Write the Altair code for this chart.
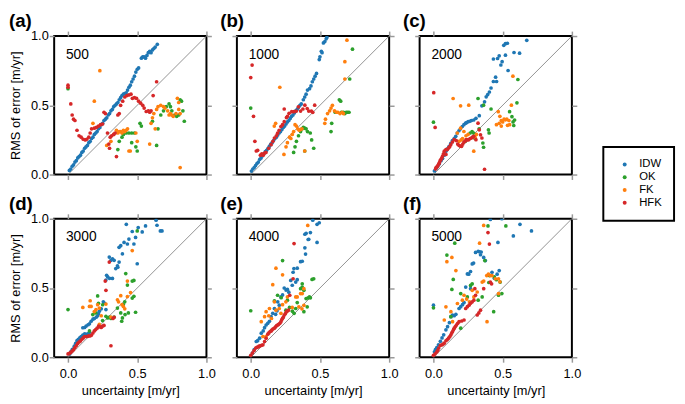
import altair as alt
import pandas as pd

METHODS = ["IDW", "OK", "FK", "HFK"]
COLORS = ["#1f77b4", "#2ca02c", "#ff7f0e", "#d62728"]
PANEL_TAGS = ["(a)", "(b)", "(c)", "(d)", "(e)", "(f)"]
PANEL_NUMS = ["500", "1000", "2000", "3000", "4000", "5000"]
X_TICKS = [0.0, 0.5, 1.0]
Y_TICKS = [0.0, 0.5, 1.0]
X_DOMAIN = [-0.1, 1.0]
Y_DOMAIN = [0.0, 1.0]
DIAG = [0.0, 1.0]

# ---------------- panel (a) 500 ----------------
A_IDW = [(0.01,0.03),(0.02,0.04),(0.03,0.06),(0.04,0.07),(0.05,0.09),(0.06,0.10),(0.07,0.12),(0.08,0.13),
         (0.09,0.14),(0.10,0.16),(0.11,0.17),(0.12,0.19),(0.13,0.20),(0.14,0.21),(0.15,0.23),(0.16,0.24),
         (0.17,0.26),(0.18,0.27),(0.19,0.29),(0.20,0.30),(0.21,0.31),(0.22,0.33),(0.23,0.34),(0.24,0.36),
         (0.25,0.37),(0.26,0.39),(0.27,0.40),(0.28,0.41),(0.29,0.43),(0.30,0.44),(0.31,0.46),(0.32,0.47),
         (0.33,0.49),(0.34,0.50),(0.35,0.51),(0.36,0.52),(0.37,0.54),(0.38,0.555),(0.39,0.57),(0.40,0.58),
         (0.41,0.585),(0.42,0.59),(0.43,0.61),(0.44,0.63),(0.45,0.645),(0.46,0.67),(0.47,0.69),(0.48,0.71),
         (0.49,0.74),(0.50,0.76),(0.51,0.77),(0.53,0.84),(0.54,0.85),(0.55,0.85),(0.56,0.84),(0.57,0.86),
         (0.58,0.88),(0.59,0.89),(0.60,0.88),(0.61,0.90),(0.62,0.91),(0.63,0.92),(0.645,0.94)]
A_OK = [(0.0,0.62),(0.36,0.18),(0.37,0.24),(0.39,0.27),(0.40,0.29),(0.42,0.30),(0.44,0.30),(0.46,0.30),
        (0.48,0.30),(0.46,0.23),(0.49,0.20),(0.50,0.17),(0.52,0.37),(0.53,0.35),(0.64,0.21),(0.65,0.33),
        (0.61,0.385),(0.67,0.43),(0.69,0.46),(0.71,0.49),(0.73,0.51),(0.74,0.49),(0.75,0.46),(0.77,0.43),
        (0.785,0.42),(0.80,0.43),(0.81,0.54),(0.82,0.53),(0.83,0.46),(0.84,0.385)]
A_FK = [(0.23,0.75),(0.19,0.53),(0.18,0.37),(0.28,0.21),(0.31,0.24),(0.33,0.29),(0.35,0.32),(0.36,0.30),
        (0.37,0.31),(0.38,0.31),(0.39,0.30),(0.40,0.32),(0.41,0.31),(0.42,0.32),(0.43,0.33),(0.44,0.17),
        (0.45,0.17),(0.49,0.30),(0.50,0.24),(0.59,0.22),(0.60,0.37),(0.61,0.41),(0.62,0.44),(0.64,0.47),
        (0.65,0.49),(0.67,0.50),(0.69,0.49),(0.70,0.48),(0.72,0.46),(0.73,0.43),(0.74,0.44),(0.75,0.43),
        (0.76,0.42),(0.78,0.44),(0.79,0.55),(0.80,0.52),(0.80,0.47),(0.81,0.44),(0.81,0.05),(0.63,0.33)]
A_HFK = [(0.0,0.645),(0.0,0.63),(0.02,0.51),(0.03,0.43),(0.04,0.40),(0.05,0.39),(0.065,0.32),(0.08,0.28),
         (0.095,0.27),(0.11,0.255),(0.125,0.25),(0.135,0.255),(0.15,0.27),(0.16,0.30),(0.17,0.33),(0.19,0.335),
         (0.205,0.34),(0.22,0.35),(0.235,0.36),(0.25,0.365),(0.26,0.45),(0.27,0.44),(0.285,0.30),(0.295,0.22),
         (0.30,0.19),(0.305,0.27),(0.315,0.28),(0.33,0.29),(0.34,0.30),(0.35,0.13),(0.36,0.43),(0.37,0.44),
         (0.38,0.50),(0.395,0.53),(0.41,0.56),(0.425,0.57),(0.44,0.575),(0.455,0.58),(0.465,0.55),(0.48,0.555),
         (0.495,0.55),(0.51,0.53),(0.525,0.515),(0.54,0.50),(0.55,0.48),(0.565,0.455),(0.58,0.46),(0.59,0.45),
         (0.60,0.46),(0.615,0.57),(0.64,0.67)]

# ---------------- panel (b) 1000 ----------------
B_IDW = [(0.005,0.025),(0.015,0.04),(0.025,0.05),(0.035,0.065),(0.045,0.08),(0.055,0.09),(0.065,0.11),
         (0.075,0.12),(0.085,0.135),(0.095,0.15),(0.105,0.165),(0.115,0.175),(0.125,0.19),(0.135,0.205),
         (0.145,0.22),(0.155,0.23),(0.165,0.245),(0.175,0.26),(0.185,0.27),(0.195,0.285),(0.205,0.30),
         (0.215,0.31),(0.225,0.325),(0.235,0.34),(0.245,0.35),(0.255,0.365),(0.265,0.38),(0.275,0.39),
         (0.285,0.405),(0.295,0.42),(0.305,0.43),(0.315,0.445),(0.325,0.46),(0.335,0.47),(0.345,0.485),
         (0.355,0.50),(0.365,0.51),(0.38,0.54),(0.39,0.56),(0.40,0.58),(0.41,0.61),(0.425,0.62),(0.435,0.64),
         (0.445,0.67),(0.455,0.69),(0.465,0.71),(0.475,0.73),(0.495,0.83),(0.50,0.85),(0.51,0.89),
         (0.515,0.88),(0.525,0.95),(0.535,0.96),(0.545,0.98),(0.55,0.99)]
B_OK = [(0.0,0.48),(0.31,0.16),(0.32,0.20),(0.33,0.24),(0.345,0.28),(0.36,0.31),(0.37,0.33),(0.38,0.34),
        (0.39,0.335),(0.40,0.33),(0.41,0.31),(0.39,0.17),(0.43,0.30),(0.44,0.25),(0.455,0.19),(0.58,0.31),
        (0.585,0.37),(0.61,0.45),(0.64,0.54),(0.65,0.53),(0.655,0.45),(0.67,0.45),(0.68,0.44),(0.69,0.45),
        (0.70,0.45),(0.71,0.45),(0.715,0.69),(0.735,0.905)]
B_FK = [(0.21,0.63),(0.18,0.37),(0.17,0.35),(0.24,0.145),(0.255,0.2),(0.265,0.23),(0.28,0.27),(0.29,0.26),
        (0.30,0.29),(0.31,0.31),(0.32,0.36),(0.33,0.35),(0.34,0.33),(0.35,0.32),(0.36,0.325),(0.37,0.33),
        (0.39,0.17),(0.535,0.37),(0.54,0.40),(0.555,0.44),(0.57,0.46),(0.58,0.48),(0.59,0.50),(0.605,0.46),
        (0.62,0.45),(0.63,0.45),(0.645,0.44),(0.66,0.45),(0.67,0.44),(0.68,0.815),(0.68,0.69),(0.695,0.97)]
B_HFK = [(0.01,0.79),(0.0,0.70),(0.02,0.42),(0.03,0.24),(0.04,0.17),(0.05,0.175),(0.07,0.14),(0.08,0.15),
         (0.09,0.14),(0.10,0.155),(0.11,0.16),(0.13,0.19),(0.147,0.216),(0.16,0.24),(0.171,0.264),(0.185,0.28),
         (0.194,0.299),(0.205,0.32),(0.218,0.347),(0.23,0.36),(0.242,0.382),(0.242,0.473),(0.258,0.411),
         (0.265,0.42),(0.277,0.442),(0.296,0.454),(0.313,0.454),(0.329,0.458),(0.344,0.489),(0.36,0.458),
         (0.377,0.473),(0.391,0.501),(0.408,0.477),(0.419,0.458),(0.438,0.458),(0.448,0.449),(0.462,0.501)]

# ---------------- panel (c) 2000 ----------------
C_IDW = [(0.007,0.026),(0.02,0.045),(0.03,0.06),(0.043,0.078),(0.055,0.10),(0.066,0.116),(0.078,0.14),
         (0.09,0.169),(0.10,0.185),(0.113,0.204),(0.125,0.225),(0.137,0.245),(0.15,0.26),(0.161,0.276),
         (0.172,0.30),(0.184,0.316),(0.195,0.33),(0.208,0.347),(0.22,0.36),(0.232,0.371),(0.24,0.375),
         (0.251,0.382),(0.263,0.385),(0.274,0.39),(0.291,0.394),(0.307,0.406),(0.331,0.425),(0.35,0.496),
         (0.369,0.525),(0.381,0.561),(0.392,0.577),(0.404,0.596),(0.416,0.625),(0.433,0.672),(0.449,0.703),
         (0.456,0.672),(0.433,0.834),(0.463,0.838),(0.475,0.857),(0.487,0.791),(0.496,0.815),(0.52,0.862),
         (0.508,0.933),(0.52,0.945),(0.534,0.948),(0.539,0.751),(0.582,0.881),(0.622,0.876),(0.674,0.969)]
C_OK = [(0.0,0.378),(0.322,0.549),(0.362,0.501),(0.416,0.473),(0.279,0.311),(0.29,0.30),(0.23,0.24),
        (0.30,0.26),(0.357,0.228),(0.362,0.197),(0.397,0.323),(0.402,0.30),(0.55,0.454),(0.567,0.418),
        (0.586,0.394),(0.58,0.354),(0.575,0.38),(0.603,0.518),(0.61,0.686),(0.265,0.30),(0.33,0.33)]
C_FK = [(0.142,0.549),(0.196,0.496),(0.255,0.501),(0.196,0.335),(0.22,0.311),(0.172,0.30),(0.185,0.24),
        (0.20,0.25),(0.21,0.26),(0.235,0.28),(0.25,0.29),(0.291,0.169),(0.30,0.27),(0.31,0.29),(0.468,0.454),
        (0.48,0.42),(0.49,0.39),(0.50,0.38),(0.51,0.40),(0.52,0.395),(0.53,0.40),(0.545,0.39),(0.535,0.355),
        (0.455,0.36),(0.475,0.37),(0.49,0.35),(0.563,0.501),(0.574,0.71),(0.55,0.36)]
C_HFK = [(0.002,0.591),(0.012,0.34),(0.369,0.038),(0.015,0.04),(0.019,0.05),(0.025,0.055),(0.031,0.062),
         (0.037,0.075),(0.043,0.086),(0.048,0.10),(0.054,0.109),(0.06,0.12),(0.066,0.133),(0.072,0.15),
         (0.078,0.169),(0.09,0.181),(0.09,0.145),(0.10,0.18),(0.109,0.192),(0.117,0.20),(0.125,0.216),
         (0.137,0.235),(0.149,0.252),(0.165,0.245),(0.175,0.22),(0.184,0.211),(0.195,0.205),(0.203,0.204),
         (0.212,0.22),(0.22,0.235),(0.228,0.24),(0.236,0.252),(0.245,0.25),(0.255,0.252),(0.265,0.26),
         (0.274,0.264),(0.282,0.27),(0.291,0.276),(0.307,0.252),(0.322,0.371),(0.331,0.323),(0.34,0.287),
         (0.35,0.264)]

# ---------------- panel (d) 3000 ----------------
D_IDW = [(0.012,0.024),(0.02,0.04),(0.03,0.055),(0.036,0.059),(0.045,0.08),(0.055,0.10),(0.065,0.12),
         (0.075,0.13),(0.085,0.14),(0.095,0.15),(0.107,0.16),(0.12,0.17),(0.13,0.165),(0.143,0.17),
         (0.155,0.18),(0.107,0.213),(0.12,0.215),(0.131,0.225),(0.145,0.235),(0.155,0.242),(0.167,0.26),
         (0.18,0.275),(0.19,0.28),(0.205,0.29),(0.214,0.30),(0.22,0.315),(0.226,0.332),(0.24,0.35),
         (0.255,0.40),(0.265,0.39),(0.274,0.344),(0.274,0.557),(0.279,0.592),(0.286,0.581),(0.30,0.57),
         (0.321,0.569),(0.298,0.723),(0.31,0.70),(0.321,0.711),(0.333,0.70),(0.345,0.64),(0.357,0.66),
         (0.369,0.687),(0.36,0.65),(0.369,0.794),(0.381,0.806),(0.393,0.746),(0.405,0.829),(0.429,0.818),
         (0.44,0.853),(0.421,0.96),(0.464,0.908),(0.476,0.818),(0.488,0.865),(0.5,0.675),(0.507,0.936),
         (0.536,0.905),(0.56,0.948),(0.636,0.99),(0.643,0.953),(0.667,0.912),(0.679,0.912)]
D_OK = [(0.0,0.344),(0.155,0.19),(0.179,0.308),(0.2,0.32),(0.214,0.443),(0.22,0.39),(0.25,0.379),
        (0.25,0.265),(0.274,0.296),(0.286,0.284),(0.30,0.29),(0.31,0.28),(0.333,0.29),(0.357,0.355),
        (0.381,0.32),(0.393,0.284),(0.388,0.26),(0.412,0.308),(0.436,0.32),(0.40,0.38),(0.41,0.40),
        (0.417,0.604),(0.429,0.521),(0.464,0.55),(0.476,0.555),(0.5,0.912),(0.488,0.325),(0.464,0.427),
        (0.476,0.44)]
D_FK = [(0.107,0.36),(0.16,0.408),(0.155,0.367),(0.167,0.367),(0.19,0.33),(0.202,0.344),(0.214,0.379),
        (0.226,0.355),(0.226,0.237),(0.24,0.30),(0.274,0.384),(0.31,0.29),(0.357,0.415),(0.365,0.40),
        (0.381,0.445),(0.39,0.38),(0.40,0.367),(0.41,0.35),(0.429,0.438),(0.429,0.55),(0.452,0.467),
        (0.464,0.77)]
D_HFK = [(0.0,0.024),(0.01,0.028),(0.02,0.035),(0.03,0.045),(0.04,0.055),(0.05,0.07),(0.06,0.085),
         (0.07,0.10),(0.08,0.11),(0.09,0.118),(0.10,0.13),(0.11,0.14),(0.12,0.15),(0.13,0.15),(0.14,0.15),
         (0.15,0.154),(0.16,0.155),(0.17,0.16),(0.18,0.175),(0.19,0.19),(0.20,0.20),(0.21,0.21),
         (0.221,0.225),(0.23,0.22),(0.24,0.215),(0.25,0.225),(0.26,0.23),(0.298,0.687),(0.269,0.55),
         (0.274,0.483),(0.31,0.083),(0.333,0.289),(0.325,0.28)]

# ---------------- panel (e) 4000 ----------------
E_IDW = [(0.012,0.031),(0.025,0.055),(0.04,0.114),(0.05,0.12),(0.064,0.138),(0.076,0.174),(0.09,0.19),
         (0.1,0.214),(0.111,0.233),(0.123,0.245),(0.135,0.26),(0.147,0.293),(0.159,0.317),(0.171,0.352),
         (0.18,0.31),(0.19,0.335),(0.206,0.376),(0.195,0.40),(0.218,0.436),(0.23,0.45),(0.242,0.5),
         (0.255,0.485),(0.265,0.49),(0.275,0.47),(0.289,0.555),(0.306,0.614),(0.312,0.64),(0.325,0.543),
         (0.336,0.643),(0.36,0.69),(0.372,0.693),(0.396,0.745),(0.391,0.79),(0.391,0.888),(0.40,0.895),
         (0.419,0.852),(0.415,0.85),(0.431,0.9),(0.448,0.99),(0.479,0.96),(0.495,0.971),(0.479,0.829),
         (0.336,0.56),(0.30,0.52)]
E_OK = [(0.0,0.336),(0.23,0.698),(0.194,0.448),(0.171,0.407),(0.22,0.43),(0.265,0.412),(0.254,0.34),
        (0.301,0.333),(0.313,0.317),(0.325,0.352),(0.336,0.395),(0.36,0.495),(0.372,0.507),(0.384,0.483),
        (0.4,0.424),(0.415,0.429),(0.424,0.436),(0.431,0.429),(0.443,0.562),(0.455,0.567),(0.384,0.329),
        (0.408,0.364),(0.372,0.531),(0.28,0.36)]
E_FK = [(0.412,0.952),(0.182,0.643),(0.159,0.524),(0.23,0.595),(0.265,0.436),(0.254,0.40),(0.23,0.38),
        (0.206,0.352),(0.182,0.34),(0.135,0.352),(0.111,0.329),(0.1,0.293),(0.076,0.257),(0.088,0.15),
        (0.11,0.15),(0.171,0.4),(0.218,0.317),(0.26,0.33),(0.30,0.36),(0.325,0.436),(0.336,0.436),
        (0.36,0.46),(0.372,0.46),(0.384,0.495),(0.348,0.364),(0.37,0.35),(0.384,0.375),(0.13,0.30),
        (0.15,0.28)]
E_HFK = [(0.0,0.014),(0.012,0.031),(0.024,0.048),(0.036,0.067),(0.045,0.072),(0.052,0.074),(0.06,0.08),
         (0.069,0.083),(0.078,0.087),(0.088,0.09),(0.1,0.114),(0.111,0.138),(0.123,0.167),(0.131,0.176),
         (0.14,0.186),(0.148,0.19),(0.154,0.198),(0.162,0.205),(0.171,0.21),(0.18,0.22),(0.187,0.229),
         (0.195,0.233),(0.201,0.238),(0.21,0.245),(0.218,0.257),(0.224,0.27),(0.23,0.281),(0.236,0.29),
         (0.242,0.305),(0.25,0.315),(0.258,0.329),(0.265,0.335),(0.273,0.34),(0.282,0.448),(0.306,0.567),
         (0.313,0.821)]

# ---------------- panel (f) 5000 ----------------
F_IDW = [(0.0,0.376),(0.007,0.04),(0.014,0.055),(0.024,0.07),(0.036,0.09),(0.05,0.115),(0.062,0.14),
         (0.074,0.162),(0.09,0.198),(0.102,0.221),(0.115,0.25),(0.126,0.293),(0.138,0.305),(0.15,0.30),
         (0.162,0.31),(0.185,0.352),(0.197,0.365),(0.221,0.395),(0.21,0.38),(0.233,0.507),(0.245,0.602),
         (0.255,0.60),(0.268,0.619),(0.28,0.674),(0.29,0.68),(0.304,0.757),(0.323,0.765),(0.333,0.762),
         (0.345,0.76),(0.34,0.74),(0.363,0.721),(0.375,0.698),(0.268,0.495),(0.411,0.995),(0.466,0.829),
         (0.494,1.0),(0.475,0.626),(0.423,0.614),(0.577,0.876),(0.625,0.96),(0.708,0.912),(0.44,0.57),
         (0.46,0.60)]
F_OK = [(0.0,0.357),(0.154,0.824),(0.097,0.738),(0.143,0.562),(0.133,0.49),(0.394,0.948),(0.523,0.948),
        (0.371,0.698),(0.268,0.519),(0.28,0.53),(0.197,0.46),(0.245,0.436),(0.323,0.412),(0.404,0.59),
        (0.44,0.58),(0.455,0.56),(0.482,0.543),(0.47,0.448),(0.494,0.46),(0.435,0.329),(0.352,0.436),
        (0.197,0.21),(0.126,0.293),(0.40,0.54)]
F_FK = [(0.363,0.952),(0.333,0.824),(0.097,0.69),(0.133,0.721),(0.162,0.626),(0.09,0.364),(0.078,0.269),
        (0.126,0.329),(0.138,0.257),(0.173,0.388),(0.209,0.412),(0.221,0.448),(0.28,0.483),(0.26,0.40),
        (0.292,0.436),(0.316,0.471),(0.352,0.543),(0.363,0.55),(0.385,0.59),(0.397,0.60),(0.41,0.59),
        (0.423,0.59),(0.447,0.567),(0.47,0.567),(0.48,0.545),(0.387,0.257),(0.47,0.46),(0.24,0.42)]
F_HFK = [(0.0,0.014),(0.012,0.025),(0.024,0.038),(0.031,0.05),(0.038,0.067),(0.05,0.086),(0.062,0.09),
         (0.07,0.095),(0.078,0.102),(0.09,0.119),(0.1,0.128),(0.109,0.138),(0.118,0.15),(0.126,0.162),
         (0.132,0.175),(0.138,0.186),(0.145,0.2),(0.15,0.21),(0.158,0.222),(0.166,0.233),(0.175,0.245),
         (0.185,0.257),(0.204,0.262),(0.221,0.269),(0.233,0.352),(0.245,0.365),(0.257,0.376),(0.268,0.39),
         (0.28,0.4),(0.292,0.412),(0.304,0.448),(0.316,0.305),(0.328,0.32),(0.34,0.34),(0.363,0.495),
         (0.299,0.495),(0.394,0.9),(0.404,0.817),(0.411,0.543),(0.42,0.53)]

PANELS = [
    [A_IDW, A_OK, A_FK, A_HFK],
    [B_IDW, B_OK, B_FK, B_HFK],
    [C_IDW, C_OK, C_FK, C_HFK],
    [D_IDW, D_OK, D_FK, D_HFK],
    [E_IDW, E_OK, E_FK, E_HFK],
    [F_IDW, F_OK, F_FK, F_HFK],
]

FONT = "Liberation Sans"
PW, PH = 155, 141


def make_panel(i):
    series = PANELS[i]
    show_y = i % 3 == 0
    show_x = i >= 3
    rows = []
    for m, pts in zip(METHODS, series):
        for x, y in pts:
            rows.append({"method": m, "u": x, "rms": y})
    df = pd.DataFrame(rows)

    xs = alt.Scale(domain=X_DOMAIN, nice=False, zero=False)
    ys = alt.Scale(domain=Y_DOMAIN, nice=False, zero=False)

    x_axis = alt.Axis(orient="bottom", values=X_TICKS, format=".1f", labels=show_x,
                      title="uncertainty [m/yr]" if show_x else None,
                      labelPadding=6, titlePadding=4, labelFlush=False)
    y_axis = alt.Axis(orient="left", values=Y_TICKS, format=".1f", labels=show_y,
                      title="RMS of error [m/yr]" if show_y else None,
                      labelPadding=1, titlePadding=8, labelFlush=False)

    diag = alt.Chart(pd.DataFrame({"u": DIAG, "rms": DIAG})).mark_line(
        color="#777777", strokeWidth=0.8
    ).encode(
        x=alt.X("u:Q", scale=xs, axis=alt.Axis(orient="top", values=X_TICKS, labels=False, title=None)),
        y=alt.Y("rms:Q", scale=ys, axis=alt.Axis(orient="right", values=Y_TICKS, labels=False, title=None)),
    )

    pts = alt.Chart(df).mark_circle(size=14, opacity=1, clip=True).encode(
        x=alt.X("u:Q", scale=xs, axis=x_axis),
        y=alt.Y("rms:Q", scale=ys, axis=y_axis),
        color=alt.Color("method:N", scale=alt.Scale(domain=METHODS, range=COLORS),
                        legend=alt.Legend(title=None)),
    )

    num = alt.Chart(pd.DataFrame({"t": [PANEL_NUMS[i]]})).mark_text(
        align="left", baseline="alphabetic", fontSize=14, font=FONT, color="black"
    ).encode(text="t:N", x=alt.value(12), y=alt.value(23))

    tag_dx = -46 if i % 3 == 0 else -17
    return alt.layer(diag, pts, num).resolve_axis(x="independent", y="independent").properties(
        width=PW, height=PH,
        title=alt.TitleParams(PANEL_TAGS[i], anchor="start", frame="group", dx=tag_dx, offset=-16,
                              baseline="alphabetic", fontSize=19, fontWeight="bold", font=FONT,
                              color="black"),
    )


chart = alt.concat(
    *[make_panel(i) for i in range(6)], columns=3,
    spacing={"row": 45, "column": 31}, bounds="flush"
).configure(
    padding={"left": 0, "top": 0, "right": 2, "bottom": 0}, font=FONT
).configure_view(
    stroke="black", strokeWidth=2
).configure_axis(
    tickColor="#999999", tickWidth=1.5, tickSize=5, domain=False, grid=False,
    labelFontSize=13, titleFontSize=13, labelColor="black", titleColor="black",
    titleFontWeight="normal", labelFont=FONT, titleFont=FONT
).configure_legend(
    orient="none", legendX=559, legendY=113, strokeColor="black", strokeWidth=2,
    padding=12, labelFontSize=11.5, labelFont=FONT, labelColor="black", symbolSize=16,
    symbolType="circle", rowPadding=0, labelOffset=9, symbolOffset=4
)

chart.save("out.html", embed_options={"renderer": "svg", "actions": False})
